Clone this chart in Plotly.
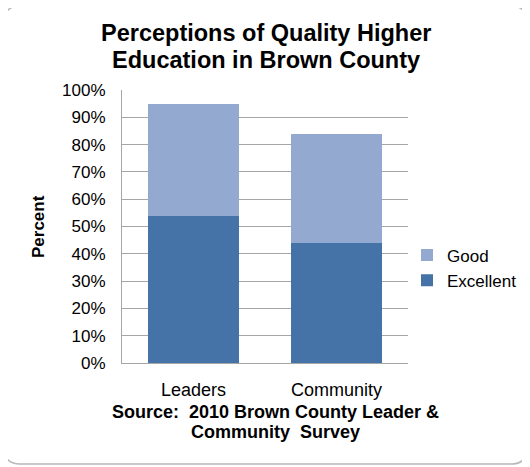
import plotly.graph_objects as go

categories = ["Leaders", "Community"]
excellent = [54, 44]
good = [41, 40]
tick_vals = [0, 10, 20, 30, 40, 50, 60, 70, 80, 90, 100]
tick_text = [f"{v}%" for v in tick_vals]

OFF = 8  # page body margin
W, H = 530 - OFF, 467 - OFF
L, R, T, B = 122 - OFF, 408 - OFF, 90 - OFF, 363 - OFF
pw, ph = R - L, B - T

def px(x):
    return (x - OFF - L) / pw

def py(y):
    return (B - (y - OFF)) / ph

FONT = "Liberation Sans, Arial, sans-serif"

fig = go.Figure()
fig.add_bar(name="Excellent", x=categories, y=excellent, marker_color="#4572A7",
            marker_line_width=0)
fig.add_bar(name="Good", x=categories, y=good, marker_color="#93A9CF",
            marker_line_width=0)

# rounded border
x0, x1, y0, y1, r = 4, 527, 6, 464, 16
path = (f"M {px(x0+r)} {py(y0)} L {px(x1-r)} {py(y0)} "
        f"Q {px(x1)} {py(y0)} {px(x1)} {py(y0+r)} "
        f"L {px(x1)} {py(y1-r)} Q {px(x1)} {py(y1)} {px(x1-r)} {py(y1)} "
        f"L {px(x0+r)} {py(y1)} Q {px(x0)} {py(y1)} {px(x0)} {py(y1-r)} "
        f"L {px(x0)} {py(y0+r)} Q {px(x0)} {py(y0)} {px(x0+r)} {py(y0)} Z")

def txt(s, x, y, size, angle=0):
    return dict(text=s, xref="paper", yref="paper", x=px(x), y=py(y),
                xanchor="center", yanchor="middle", showarrow=False,
                textangle=angle, font=dict(size=size, family=FONT, color="#000000"))

fig.update_layout(
    width=W, height=H,
    margin=dict(l=L, r=W - R, t=T, b=H - B, autoexpand=False),
    paper_bgcolor="white", plot_bgcolor="white",
    barmode="stack", bargap=0.36,
    font=dict(family=FONT, size=17, color="#000000"),
    shapes=[dict(type="path", xref="paper", yref="paper", path=path,
                 line=dict(color="#B8B8B8", width=1.5), layer="below")],
    legend=dict(x=px(407), xanchor="left", y=py(268), yanchor="middle",
                traceorder="reversed", font=dict(size=17),
                bgcolor="rgba(0,0,0,0)", itemwidth=30, tracegroupgap=0),
    annotations=[
        txt("<b>Perceptions of Quality Higher</b>", 266, 33, 23.5),
        txt("<b>Education in Brown County</b>", 266, 60, 23.5),
        txt("<b>Percent</b>", 38, 227, 17, -90),
        txt("<b>Source:\u00a0 2010 Brown County Leader &amp;</b>", 275, 412, 18),
        txt("<b>Community\u00a0 Survey</b>", 275, 432, 18),
    ],
)
fig.update_yaxes(range=[0, 100], tickvals=tick_vals, ticktext=tick_text,
                 showgrid=True, gridcolor="#A6A6A6", gridwidth=1,
                 showline=True, linecolor="#A6A6A6", linewidth=1,
                 ticks="", ticklabelstandoff=12, zeroline=False,
                 tickfont=dict(size=17, color="#000000"))
fig.update_xaxes(showline=True, linecolor="#A6A6A6", linewidth=1, ticks="",
                 mirror=False, tickfont=dict(size=18, color="#000000"),
                 ticklabelstandoff=10)
fig.write_html("out.html")
